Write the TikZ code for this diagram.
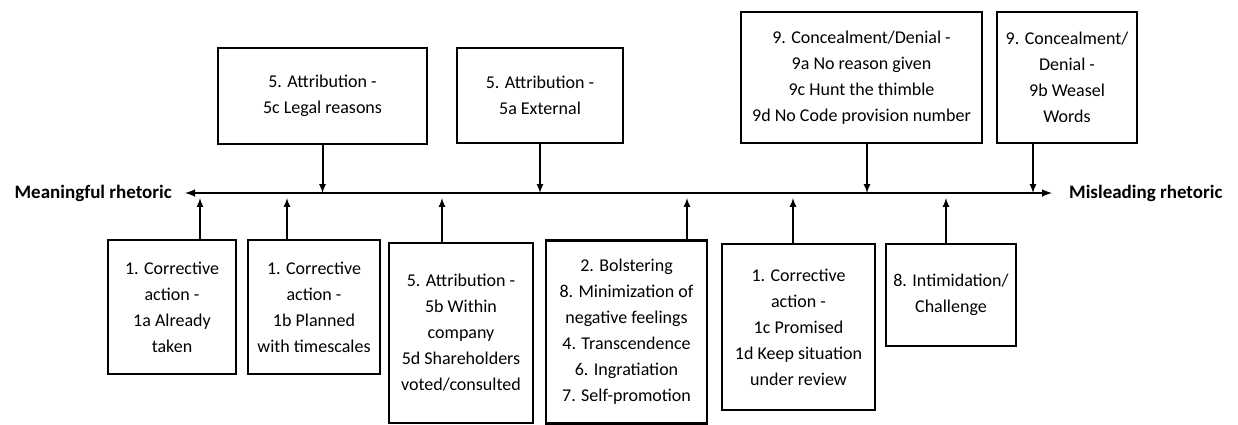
\documentclass[tikz,border=0pt]{standalone}
\usepackage{fontspec}
\setmainfont{Carlito}
\usepackage{tikz}
\usetikzlibrary{arrows}
\usetikzlibrary{positioning}

\tikzset{
  box/.style={draw, line width=2.6pt, align=center, inner sep=0pt,
    font=\fontsize{18}{26}\selectfont},
  pole/.style={font=\bfseries\fontsize{19}{22}\selectfont, inner sep=0pt},
  link/.style={->, line width=2pt}
}

\begin{document}
\begin{tikzpicture}[>=latex, x=1pt, y=-1pt]
  \useasboundingbox (0,0) rectangle (1238,424);

  % the axis
  \coordinate (L) at (185,193);
  \coordinate (R) at (1052,193);
  \draw[<->, line width=2.4pt] (L) -- (R);
  \node[pole, anchor=east] (mean) at (172,193) {Meaningful rhetoric};
  \node[pole, anchor=west] (mislead) at (1069,193) {Misleading rhetoric};

  % boxes above the axis
  \node[box, minimum width=209pt, minimum height=96pt] (c5) at (322.5,96)
    {5. Attribution -\\5c Legal reasons};
  \node[box, minimum width=166pt, minimum height=95pt] (a5) at (540,95.5)
    {5. Attribution -\\5a External};
  \node[box, minimum width=241pt, minimum height=131pt] (n9) at (861.5,77.5)
    {9. Concealment/Denial -\\9a No reason given\\9c Hunt the thimble\\9d No Code provision number};
  \node[box, minimum width=140pt, minimum height=131pt] (b9) at (1067,77.5)
    {9. Concealment/\\Denial -\\9b Weasel\\Words};

  % boxes below the axis
  \node[box, minimum width=128pt, minimum height=134pt] (a1) at (172,307)
    {1. Corrective\\action -\\1a Already\\taken};
  \node[box, minimum width=132pt, minimum height=134pt] (b1) at (314,307)
    {1. Corrective\\action -\\1b Planned\\with timescales};
  \node[box, minimum width=144pt, minimum height=180pt] (b5) at (461,333)
    {5. Attribution -\\5b Within\\company\\5d Shareholders\\voted/consulted};
  \node[box, minimum width=161pt, minimum height=183pt] (bo2) at (626.5,332)
    {2. Bolstering\\8. Minimization of\\negative feelings\\4. Transcendence\\6. Ingratiation\\7. Self-promotion};
  \node[box, minimum width=153pt, minimum height=166pt] (c1) at (798.5,327)
    {1. Corrective\\action -\\1c Promised\\1d Keep situation\\under review};
  \node[box, minimum width=130pt, minimum height=102pt] (i8) at (951,295)
    {8. Intimidation/\\Challenge};

  % where the links meet the axis
  \coordinate (t9) at (867,193);
  \coordinate (tb9) at (1033,193);
  \coordinate (u1) at (200,198);
  \coordinate (u2) at (287,198);
  \coordinate (u3) at (442,198);
  \coordinate (u4) at (687,198);
  \coordinate (u5) at (793,198);
  \coordinate (u6) at (946,198);

  \draw[link] (c5.south) -- (c5.south |- L);
  \draw[link] (a5.south) -- (a5.south |- L);
  \draw[link] (t9 |- n9.south) -- (t9);
  \draw[link] (tb9 |- b9.south) -- (tb9);

  \draw[link] (u1 |- a1.north) -- (u1);
  \draw[link] (u2 |- b1.north) -- (u2);
  \draw[link] (u3 |- b5.north) -- (u3);
  \draw[link] (u4 |- bo2.north) -- (u4);
  \draw[link] (u5 |- c1.north) -- (u5);
  \draw[link] (u6 |- i8.north) -- (u6);

\end{tikzpicture}
\end{document}
